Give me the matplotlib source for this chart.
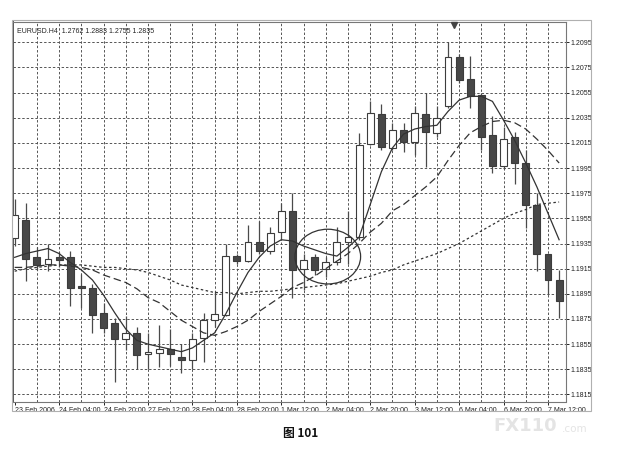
import matplotlib
matplotlib.use("Agg")
import matplotlib.pyplot as plt
from matplotlib.patches import Ellipse, Rectangle
import numpy as np

# ---------------- data ----------------
x_labels = ["23 Feb 2006", "24 Feb 04:00", "24 Feb 20:00", "27 Feb 12:00",
            "28 Feb 04:00", "28 Feb 20:00", "1 Mar 12:00", "2 Mar 04:00",
            "2 Mar 20:00", "3 Mar 12:00", "6 Mar 04:00", "6 Mar 20:00",
            "7 Mar 12:00"]

opens = [1.1939, 1.1954, 1.1924, 1.1919, 1.1924, 1.1924, 1.1901, 1.1900, 1.1880, 1.1872,
         1.1859, 1.1864, 1.1847, 1.1848, 1.1851, 1.1845, 1.1842, 1.1860, 1.1874, 1.1878,
         1.1925, 1.1921, 1.1936, 1.1929, 1.1944, 1.1961, 1.1915, 1.1924, 1.1915, 1.1920,
         1.1936, 1.1940, 1.2014, 1.2038, 1.2011, 1.2025, 1.2016, 1.2038, 1.2023, 1.2044,
         1.2083, 1.2066, 1.2053, 1.2021, 1.1997, 1.2020, 1.1999, 1.1966, 1.1927, 1.1906]
highs = [1.1970, 1.1967, 1.1932, 1.1935, 1.1928, 1.1929, 1.1911, 1.1903, 1.1888, 1.1876,
         1.1877, 1.1869, 1.1864, 1.1870, 1.1867, 1.1855, 1.1864, 1.1880, 1.1897, 1.1935,
         1.1927, 1.1950, 1.1953, 1.1948, 1.1967, 1.1975, 1.1927, 1.1927, 1.1924, 1.1948,
         1.1961, 1.2023, 1.2048, 1.2046, 1.2031, 1.2031, 1.2044, 1.2055, 1.2044, 1.2095,
         1.2086, 1.2084, 1.2055, 1.2036, 1.2028, 1.2024, 1.2009, 1.1975, 1.1927, 1.1914]
lows = [1.1933, 1.1905, 1.1914, 1.1913, 1.1916, 1.1885, 1.1884, 1.1864, 1.1864, 1.1825,
        1.1850, 1.1835, 1.1835, 1.1837, 1.1838, 1.1832, 1.1835, 1.1841, 1.1869, 1.1877,
        1.1919, 1.1920, 1.1927, 1.1927, 1.1938, 1.1892, 1.1898, 1.1910, 1.1908, 1.1918,
        1.1919, 1.1938, 1.2013, 1.2009, 1.2009, 1.2008, 1.2005, 1.1996, 1.2020, 1.2043,
        1.2063, 1.2043, 1.2009, 1.1991, 1.1994, 1.1982, 1.1947, 1.1913, 1.1895, 1.1876]
closes = [1.1958, 1.1923, 1.1918, 1.1923, 1.1922, 1.1900, 1.1900, 1.1878, 1.1868, 1.1859,
          1.1864, 1.1846, 1.1849, 1.1851, 1.1847, 1.1842, 1.1859, 1.1874, 1.1879, 1.1925,
          1.1921, 1.1936, 1.1929, 1.1943, 1.1961, 1.1914, 1.1922, 1.1914, 1.1920, 1.1936,
          1.1940, 1.2013, 1.2039, 1.2012, 1.2025, 1.2016, 1.2039, 1.2024, 1.2035, 1.2083,
          1.2065, 1.2052, 1.2020, 1.1997, 1.2018, 1.1999, 1.1966, 1.1927, 1.1906, 1.1889]

ma_fast = [1.1924, 1.1927, 1.1929, 1.1931, 1.1927, 1.1920, 1.1914, 1.1906, 1.1894, 1.1880,
           1.1867, 1.1858, 1.1855, 1.1853, 1.1851, 1.1849, 1.1852, 1.1858, 1.1864, 1.1879,
           1.1896, 1.1912, 1.1924, 1.1933, 1.1938, 1.1937, 1.1933, 1.1930, 1.1927, 1.1925,
           1.1932, 1.1940, 1.1966, 1.1992, 1.2011, 1.2022, 1.2026, 1.2028, 1.2029, 1.2040,
           1.2049, 1.2052, 1.2052, 1.2048, 1.2033, 1.2017, 1.1999, 1.1980, 1.1959, 1.1938]
ma_mid = [1.1916, 1.1916, 1.1917, 1.1918, 1.1918, 1.1917, 1.1916, 1.1914, 1.1910, 1.1907,
          1.1904, 1.1899, 1.1892, 1.1888, 1.1881, 1.1874, 1.1869, 1.1864, 1.1862, 1.1865,
          1.1869, 1.1874, 1.1881, 1.1887, 1.1893, 1.1900, 1.1904, 1.1909, 1.1915, 1.1921,
          1.1927, 1.1935, 1.1944, 1.1951, 1.1961, 1.1966, 1.1973, 1.1980, 1.1988, 1.2001,
          1.2013, 1.2023, 1.2028, 1.2032, 1.2033, 1.2031, 1.2026, 1.2018, 1.2009, 1.1999]
ma_slow = [1.1913, 1.1915, 1.1916, 1.1917, 1.1918, 1.1918, 1.1918, 1.1917, 1.1916, 1.1916,
           1.1915, 1.1914, 1.1912, 1.1909, 1.1906, 1.1902, 1.1900, 1.1898, 1.1896, 1.1896,
           1.1895, 1.1896, 1.1897, 1.1897, 1.1898, 1.1899, 1.1900, 1.1901, 1.1902, 1.1903,
           1.1905, 1.1907, 1.1909, 1.1912, 1.1914, 1.1918, 1.1921, 1.1924, 1.1927, 1.1931,
           1.1935, 1.1940, 1.1945, 1.1950, 1.1955, 1.1959, 1.1962, 1.1966, 1.1967, 1.1968]

price_ticks = [1.1815, 1.1835, 1.1855, 1.1875, 1.1895, 1.1915, 1.1935, 1.1955,
               1.1975, 1.1995, 1.2015, 1.2035, 1.2055, 1.2075, 1.2095]

title_text = "EURUSD.H4  1.2762 1.2883 1.2755 1.2835"
caption = "图 101"

# ---------------- figure ----------------
W, H = 619, 463
fig = plt.figure(figsize=(W / 100, H / 100), dpi=100)
fig.patch.set_facecolor("white")

ax_l, ax_r, ax_t, ax_b = 13, 566, 22, 401.5
ax = fig.add_axes([ax_l / W, (H - ax_b) / H, (ax_r - ax_l) / W, (ax_b - ax_t) / H])

n = len(opens)
idx = np.arange(n)
ax.set_xlim(-0.15, 49.62)
ax.set_ylim(1.18094, 1.21111)

small_font = ["Liberation Sans Narrow", "Liberation Sans", "DejaVu Sans"]
grid_col = "#555555"

# grid
for p in price_ticks:
    ax.axhline(p, color=grid_col, lw=0.7, ls=(0, (2.5, 2.0)), zorder=0)
for i in range(2, n, 2):
    ax.axvline(i, color=grid_col, lw=0.7, ls=(0, (2.5, 2.0)), zorder=0)

# candles
ink = "#3c3c3c"
body_w = 0.62
for i in range(n):
    o, h, l, c = opens[i], highs[i], lows[i], closes[i]
    ax.vlines(i, l, h, color="#4a4a4a", lw=0.9, zorder=2)
    bottom = min(o, c)
    height = max(abs(c - o), 0.00003)
    face = "white" if c >= o else "#474747"
    ax.bar(i, height, bottom=bottom, width=body_w, color=face,
           edgecolor=ink, linewidth=0.8, zorder=3)

# moving averages
ax.plot(idx, ma_fast, color="#333333", lw=0.9, zorder=4)
ax.plot(idx, ma_mid, color="#333333", lw=0.9, ls=(0, (6, 3)), zorder=4)
ax.plot(idx, ma_slow, color="#333333", lw=0.9, ls=(0, (2, 2)), zorder=4)

# circle annotation
ax.add_patch(Ellipse((28.18, 1.19246), 5.91, 0.00435, fill=False,
                     ec="#333333", lw=0.9, zorder=5))

# chart-shift marker at top
ax.plot([39.5], [1.2109], marker="v", ms=4, color="#444444", clip_on=False, zorder=6)

# axes ticks
ax.yaxis.tick_right()
ax.set_yticks(price_ticks)
ax.set_yticklabels([f"{p:.4f}" for p in price_ticks])
ax.set_xticks(list(range(0, n, 4)))
ax.set_xticklabels(x_labels, ha="left")
ax.tick_params(axis="y", direction="out", length=2.5, width=0.7, pad=1,
               labelsize=5, colors="#222222")
ax.tick_params(axis="x", direction="out", length=2.5, width=0.7, pad=1.5,
               labelsize=5, colors="#222222")
for lab in ax.get_xticklabels() + ax.get_yticklabels():
    lab.set_family(small_font)

for s in ["left", "right", "bottom", "top"]:
    ax.spines[s].set_color("#777777")
    ax.spines[s].set_linewidth(0.8)
ax.spines["left"].set_linewidth(1.4)
ax.spines["left"].set_color("#555555")

# title inside chart
ax.text(0.007, 0.985, title_text, transform=ax.transAxes, ha="left", va="top",
        fontsize=5, family=small_font, color="#222222", zorder=7)

# outer frame
fig.add_artist(Rectangle((12 / W, (H - 411) / H), (591 - 12) / W, (411 - 20) / H,
                         transform=fig.transFigure, fill=False, ec="#b0b0b0", lw=0.8))

# caption
fig.text(301 / W, (H - 433) / H, caption, ha="center", va="center", fontsize=8.5,
         fontweight="bold", family=["Noto Sans CJK SC", "DejaVu Sans"], color="#111111")

# watermark
fig.text(493 / W, (H - 426) / H, "FX110", ha="left", va="center", fontsize=13,
         fontweight="bold", family=["DejaVu Sans"], color="#e4e4e4")
fig.text(562 / W, (H - 429) / H, ".com", ha="left", va="center", fontsize=7.5,
         family=["DejaVu Sans"], color="#e4e4e4")

fig.savefig("out.png", dpi=100)
